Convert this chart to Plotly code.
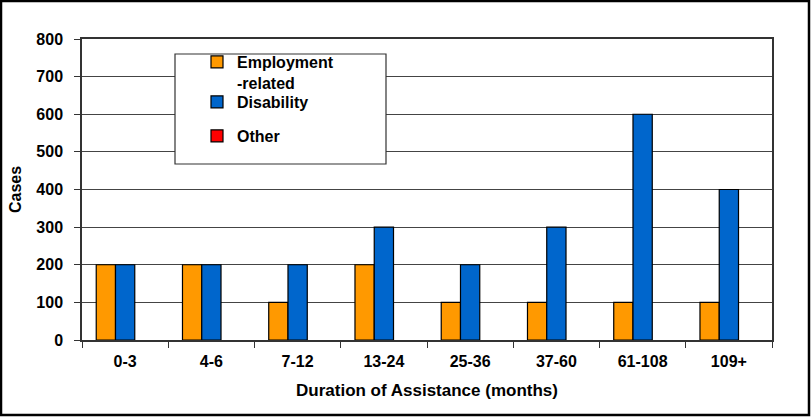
import plotly.graph_objects as go

categories = ["0-3", "4-6", "7-12", "13-24", "25-36", "37-60", "61-108", "109+"]
employment = [200, 200, 100, 200, 100, 100, 100, 100]
disability = [200, 200, 200, 300, 200, 300, 600, 400]
other = [None, None, None, None, None, None, None, None]
y_ticks = [0, 100, 200, 300, 400, 500, 600, 700, 800]

W, H = 811, 417
ml, mr, mt, mb = 82, 39, 39, 77
pw, ph = W - ml - mr, H - mt - mb

def px_x(x):
    return (x - ml) / pw

def px_y(y):
    return (H - mb - y) / ph

font = "Liberation Sans, Arial, sans-serif"
fig = go.Figure()
line = dict(color="black", width=1.2)
fig.add_trace(go.Bar(x=categories, y=employment, name="<b>Employment<br>-related</b>",
                     marker=dict(color="#FF9900", line=line), legend="legend"))
fig.add_trace(go.Bar(x=categories, y=disability, name="<b>Disability</b>",
                     marker=dict(color="#0066CC", line=line), legend="legend2"))
fig.add_trace(go.Bar(x=categories, y=other, name="<b>Other</b>",
                     marker=dict(color="#FF0000", line=line), legend="legend3"))

leg_common = dict(xanchor="left", yanchor="top", bgcolor="rgba(0,0,0,0)", borderwidth=0,
                  font=dict(size=16, family=font), valign="top", itemwidth=30,
                  tracegroupgap=0)

fig.update_layout(
    width=W, height=H,
    margin=dict(l=ml, r=mr, t=mt, b=mb),
    paper_bgcolor="white", plot_bgcolor="white",
    barmode="group", bargap=0.33, bargroupgap=0,
    font=dict(family=font, size=16, color="black"),
    showlegend=True,
    legend=dict(x=px_x(197), y=px_y(45), **leg_common),
    legend2=dict(x=px_x(197), y=px_y(85), **leg_common),
    legend3=dict(x=px_x(197), y=px_y(119), **leg_common),
    xaxis=dict(showline=True, linecolor="#333", linewidth=1.5, mirror=True,
               ticks="outside", tickson="boundaries", ticklen=6, tickcolor="#333",
               tickfont=dict(size=16), ticklabelstandoff=6,
               title=dict(text="<b>Duration of Assistance (months)</b>",
                          font=dict(size=17), standoff=15)),
    yaxis=dict(range=[0, 800], tickvals=y_ticks, ticktext=[f"<b>{v}</b>" for v in y_ticks],
               showline=True, linecolor="#333", linewidth=1.5, mirror=True,
               ticks="outside", ticklen=6, tickcolor="#333",
               showgrid=True, gridcolor="#444", gridwidth=1, zeroline=False,
               tickfont=dict(size=16), ticklabelstandoff=8,
               title=dict(text="<b>Cases</b>", font=dict(size=16), standoff=11)),
)
fig.update_xaxes(tickvals=categories, ticktext=[f"<b>{c}</b>" for c in categories])

# legend box
fig.add_shape(type="rect", xref="paper", yref="paper",
              x0=px_x(175), x1=px_x(386), y0=px_y(164), y1=px_y(54),
              line=dict(color="#333", width=1.2), fillcolor="white", layer="above")
# outer figure border
fig.add_shape(type="rect", xref="paper", yref="paper",
              x0=px_x(1), x1=px_x(809), y0=px_y(415), y1=px_y(1),
              line=dict(color="black", width=2.5), fillcolor="rgba(0,0,0,0)", layer="above")

fig.write_html("out.html", config={"displayModeBar": False},
               post_script="document.body.style.margin='0';document.body.style.overflow='hidden';")
